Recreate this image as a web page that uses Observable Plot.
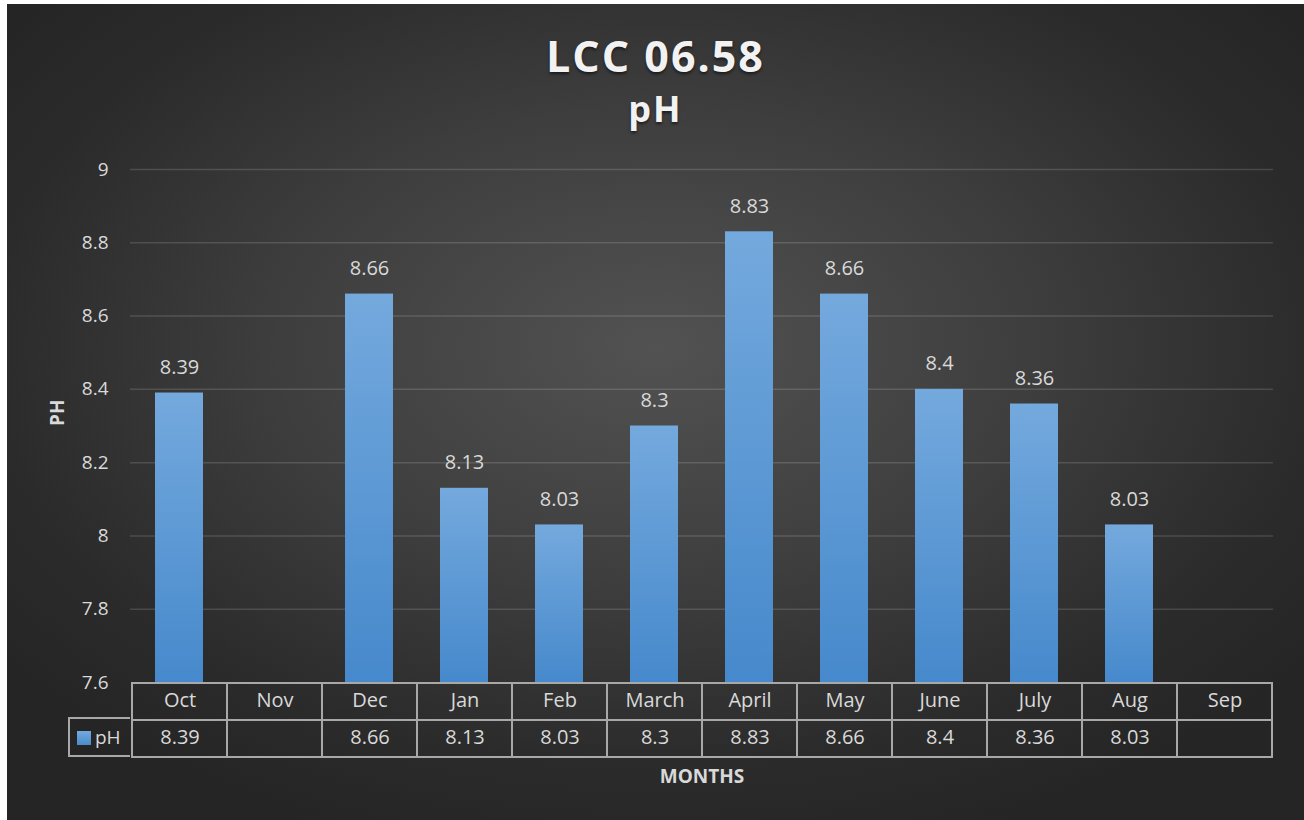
<!DOCTYPE html>
<html><head><meta charset="utf-8">
<script src="https://cdn.jsdelivr.net/npm/d3@7"></script>
<script src="https://cdn.jsdelivr.net/npm/@observablehq/plot@0.6"></script>
<style>
html,body{margin:0;padding:0;background:#fff;width:1304px;height:820px;overflow:hidden;font-family:"Open Sans",sans-serif}
#chart{position:absolute;left:7px;top:4px;width:1297px;height:816px;overflow:hidden;
  background:radial-gradient(ellipse 64% 64% at 50% 42%, #525252 0%, #3e3e3e 45%, #2b2b2b 80%, #252525 100%);}
#chart svg{position:absolute;left:0;overflow:visible}
.title{position:absolute;left:0;width:100%;text-align:center;color:#f2f2f2;font-weight:bold;line-height:1;
  text-shadow:0 2px 3px rgba(0,0,0,0.55)}
#legendCell{position:absolute;left:61px;top:713px;width:62px;height:40px;box-sizing:border-box;border:2px solid #a8a8a8;border-right:none;
  color:#d9d9d9;font-size:19px;line-height:36px}
#legendCell .sw{position:absolute;left:7px;top:12px;width:14px;height:14px;background:linear-gradient(#74a9dd,#4a8bcd)}
#legendCell .lb{position:absolute;left:25px;top:0}
</style></head>
<body>
<div id="chart">
  <div class="title" style="top:30px;font-size:43px;letter-spacing:2px">LCC 06.58</div>
  <div class="title" style="top:87px;font-size:36px;letter-spacing:2px">pH</div>
</div>
<script>
const months = ["Oct","Nov","Dec","Jan","Feb","March","April","May","June","July","Aug","Sep"];
const phValues = [8.39, null, 8.66, 8.13, 8.03, 8.3, 8.83, 8.66, 8.4, 8.36, 8.03, null];
const yTicks = [7.6, 7.8, 8, 8.2, 8.4, 8.6, 8.8, 9];
const seriesName = "pH";
const xTitle = "MONTHS";
const yTitle = "PH";

const yMin = yTicks[0], yMax = yTicks[yTicks.length - 1];
const data = months.map((m, i) => ({month: m, ph: phValues[i]}));
const bars = data.filter(d => d.ph != null);

const W = 1297, ML = 123, MR = 31;
const txt = "#d9d9d9";

const main = Plot.plot({
  width: W, height: 678,
  marginLeft: ML, marginRight: MR, marginTop: 165, marginBottom: 0,
  style: {background: "transparent", color: txt, fontFamily: "Open Sans", fontSize: "19px", overflow: "visible"},
  x: {domain: months, paddingInner: 0.49, paddingOuter: 0.245, axis: null},
  y: {domain: [yMin, yMax], axis: null},
  marks: [
    Plot.gridY(yTicks.slice(1), {stroke: "#ffffff", strokeOpacity: 0.14, strokeWidth: 1.5}),
    Plot.axisY(yTicks, {tickSize: 0, tickPadding: 22, tickFormat: d => String(d), fill: txt, fontSize: 19, label: null}),
    Plot.barY(bars, {x: "month", y1: () => yMin, y2: "ph", fill: "url(#barGrad)", style: "filter:drop-shadow(3px 2px 3px rgba(0,0,0,0.55))"}),
    Plot.text(bars, {x: "month", y: "ph", text: d => String(d.ph), dy: -19, lineAnchor: "bottom", fill: txt, fontSize: 20}),
    Plot.text([yTitle], {frameAnchor: "left", dx: -73, rotate: -90, fill: txt, fontSize: 19, fontWeight: "bold"})
  ]
});
d3.select(main).insert("defs", ":first-child").html(
  '<linearGradient id="barGrad" x1="0" y1="0" x2="0" y2="1">' +
  '<stop offset="0" stop-color="#74a9dd"/><stop offset="1" stop-color="#4689cc"/></linearGradient>');
main.style.top = "0px";

const rows = ["month", "value"];
const cells = months.flatMap((m, i) => [
  {month: m, row: "month", label: m},
  {month: m, row: "value", label: phValues[i] == null ? "" : String(phValues[i])}
]);
const table = Plot.plot({
  width: W, height: 139,
  marginLeft: ML, marginRight: MR, marginTop: 1, marginBottom: 63,
  style: {background: "transparent", color: txt, fontFamily: "Open Sans", fontSize: "19px", overflow: "visible"},
  x: {domain: months, padding: 0, axis: null},
  y: {domain: rows, padding: 0, axis: null},
  marks: [
    Plot.cell(cells, {x: "month", y: "row", fill: "none", stroke: "#a8a8a8", strokeWidth: 2, inset: 0}),
    Plot.text(cells, {x: "month", y: "row", text: "label", dy: -1, fill: txt, fontSize: 20}),
    Plot.text([xTitle], {frameAnchor: "bottom", dy: 25, fill: txt, fontSize: 19, fontWeight: "bold"})
  ]
});
table.style.top = "677px";

const chart = document.getElementById("chart");
chart.appendChild(main);
chart.appendChild(table);
const lc = document.createElement("div");
lc.id = "legendCell";
lc.innerHTML = '<span class="sw"></span><span class="lb">' + seriesName + '</span>';
chart.appendChild(lc);
</script>
</body></html>
